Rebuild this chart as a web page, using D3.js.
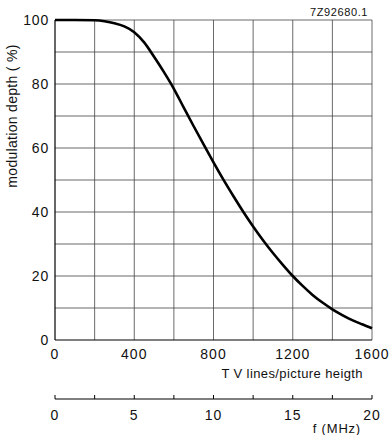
<!DOCTYPE html>
<html><head><meta charset="utf-8">
<script src="https://cdn.jsdelivr.net/npm/d3@7"></script>
<style>body{margin:0;background:#fff}svg{display:block}text{font-family:"Liberation Sans",Arial,sans-serif;fill:#111}</style>
</head><body>
<script>
const lines = [0,100,200,250,300,350,400,450,500,550,600,650,700,750,800,850,900,950,1000,1050,1100,1150,1200,1250,1300,1350,1400,1450,1500,1550,1600];
const depth = [100,100,99.9,99.6,99,98,96.2,93,88.5,83.7,78.5,72.6,66.8,61.1,55.5,50.1,45,40.1,35.5,31.2,27.2,23.5,20,16.9,14.1,11.7,9.6,7.8,6.2,4.9,3.7];
const xTicks = [0,400,800,1200,1600];
const yTicks = [0,20,40,60,80,100];
const fTicks = [0,5,10,15,20];

const W=389,H=435;
const svg=d3.select("body").append("svg").attr("width",W).attr("height",H);
const x=d3.scaleLinear().domain([0,1600]).range([55,372]);
const y=d3.scaleLinear().domain([0,100]).range([340,20]);
const f=d3.scaleLinear().domain([0,20]).range([55,372]);

const g=svg.append("g");
g.selectAll(".vg").data(d3.range(200,1601,200)).enter().append("line")
 .attr("x1",d=>x(d)).attr("x2",d=>x(d)).attr("y1",y(0)).attr("y2",y(100))
 .attr("stroke","#444").attr("stroke-width",0.8);
g.selectAll(".hg").data(d3.range(10,101,10)).enter().append("line")
 .attr("x1",x(0)).attr("x2",x(1600)).attr("y1",d=>y(d)).attr("y2",d=>y(d))
 .attr("stroke","#444").attr("stroke-width",0.8);
g.append("line").attr("x1",x(0)).attr("x2",x(0)).attr("y1",y(0)).attr("y2",y(100)).attr("stroke","#000").attr("stroke-width",1.2);
g.append("line").attr("x1",x(0)).attr("x2",x(1600)).attr("y1",y(0)).attr("y2",y(0)).attr("stroke","#000").attr("stroke-width",1.2);

g.selectAll(".yl").data(yTicks).enter().append("text")
 .attr("x",49).attr("y",d=>y(d)).attr("dy","0.35em").attr("text-anchor","end")
 .attr("font-size",14).attr("letter-spacing",0.8).text(d=>d);
g.selectAll(".xl").data(xTicks).enter().append("text")
 .attr("x",d=>x(d)).attr("y",354).attr("dy","0.35em").attr("text-anchor","middle")
 .attr("font-size",14).attr("letter-spacing",1).text(d=>d);
g.append("text").attr("x",363).attr("y",373).attr("dy","0.35em").attr("text-anchor","end")
 .attr("font-size",13).attr("letter-spacing",0.4).text("T V lines/picture heigth");

const fa=svg.append("g").attr("transform","translate(0,399)");
fa.append("line").attr("x1",f(0)).attr("x2",f(20)).attr("stroke","#000").attr("stroke-width",1.2);
fa.selectAll(".ft").data(d3.range(0,20.01,2.5)).enter().append("line")
 .attr("x1",d=>f(d)).attr("x2",d=>f(d)).attr("y1",0).attr("y2",-4).attr("stroke","#000").attr("stroke-width",1);
fa.selectAll(".fl").data(fTicks).enter().append("text")
 .attr("x",d=>f(d)).attr("y",16).attr("dy","0.35em").attr("text-anchor","middle")
 .attr("font-size",14).attr("letter-spacing",1).text(d=>d);
svg.append("text").attr("x",361).attr("y",428).attr("dy","0.35em").attr("text-anchor","end")
 .attr("font-size",13).attr("letter-spacing",0.8).text("f (MHz)");

svg.append("text").attr("transform","translate(12,116) rotate(-90)").attr("text-anchor","middle")
 .attr("dy","0.35em").attr("font-size",14).attr("letter-spacing",0.3).text("modulation depth ( %)");
svg.append("text").attr("x",368).attr("y",12).attr("dy","0.35em").attr("text-anchor","end")
 .attr("font-size",11).attr("letter-spacing",0.6).text("7Z92680.1");

const pts=lines.map((v,i)=>[v,depth[i]]);
svg.append("path").datum(pts).attr("fill","none").attr("stroke","#000").attr("stroke-width",2.6)
 .attr("d",d3.line().x(d=>x(d[0])).y(d=>y(d[1])).curve(d3.curveMonotoneX));
</script>
</body></html>
